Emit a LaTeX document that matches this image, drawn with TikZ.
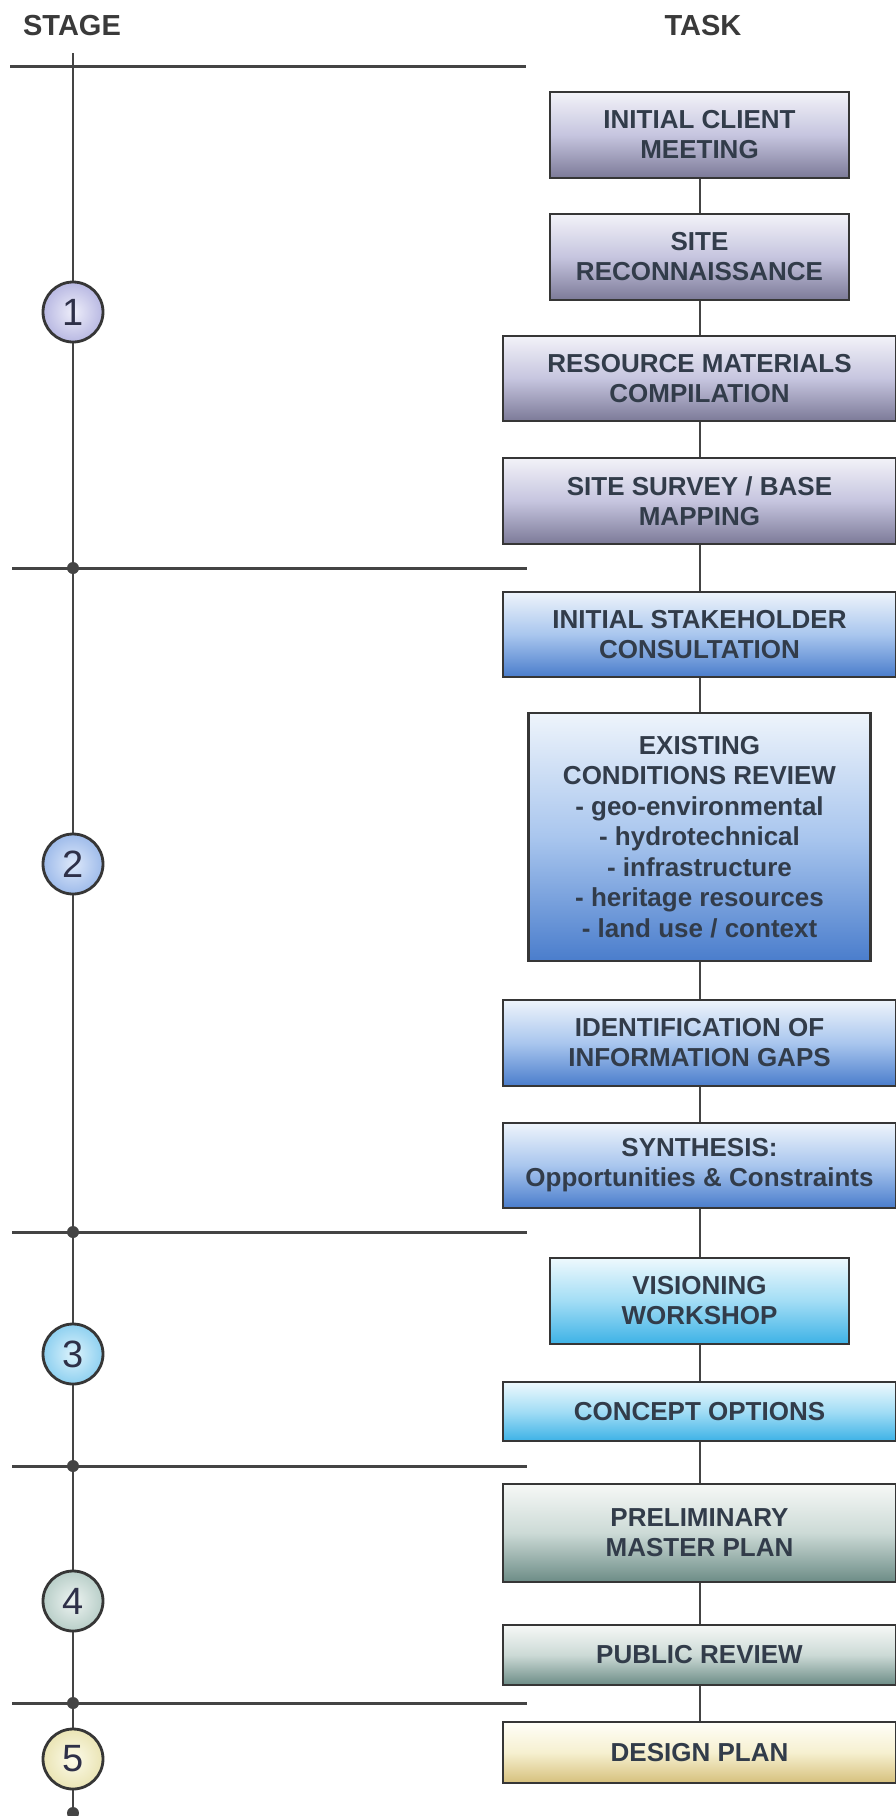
\documentclass[tikz,border=0pt]{standalone}
\usepackage{fontspec}
\setmainfont{Liberation Sans}
\definecolor{boxline}{HTML}{363636}
\definecolor{linecol}{HTML}{444444}
\definecolor{txt}{HTML}{323C4A}
\definecolor{numtxt}{HTML}{2E3048}
\definecolor{hdr}{HTML}{3A3A3A}
\definecolor{pT}{HTML}{F2F2F8}\definecolor{pM}{HTML}{C6C5DF}\definecolor{pB}{HTML}{7C7A98}
\definecolor{bT}{HTML}{EEF4FB}\definecolor{bM}{HTML}{A9C6EE}\definecolor{bB}{HTML}{4A7DCC}
\definecolor{cT}{HTML}{EEF9FD}\definecolor{cM}{HTML}{A2DDF5}\definecolor{cB}{HTML}{3DB2E6}
\definecolor{tT}{HTML}{F6F8F6}\definecolor{tM}{HTML}{CCDAD6}\definecolor{tB}{HTML}{6C8C86}
\definecolor{yT}{HTML}{FFFEF8}\definecolor{yM}{HTML}{F6F0D0}\definecolor{yB}{HTML}{D6C07C}
\begin{document}
\begin{tikzpicture}[x=1pt,y=-1pt,
  task/.style={draw=boxline, line width=2.6pt, rectangle, inner sep=0pt, align=center,
    text=txt, font=\bfseries\fontsize{26}{30}\selectfont},
  narrowbox/.style={minimum width=299pt},
  widebox/.style={minimum width=393pt},
  purp/.style={top color=pT, bottom color=pB, middle color=pM},
  blu/.style={top color=bT, bottom color=bB, middle color=bM},
  cya/.style={top color=cT, bottom color=cB, middle color=cM},
  teal/.style={top color=tT, bottom color=tB, middle color=tM},
  yel/.style={top color=yT, bottom color=yB, middle color=yM},
  stagecirc/.style={circle, draw=boxline, line width=2.8pt, minimum size=60pt, inner sep=0pt,
    font=\fontsize{38}{38}\selectfont, text=numtxt},
  conn/.style={draw=linecol, line width=2pt},
  sline/.style={draw=linecol, line width=3pt},
  vline/.style={draw=linecol, line width=2.2pt},
  sdot/.style={circle, fill=linecol, minimum size=12pt, inner sep=0pt},
  header/.style={font=\bfseries\fontsize{29}{30}\selectfont, text=hdr}
]
\useasboundingbox (0,0) rectangle (896,1816);
\fill[white] (0,0) rectangle (896,1816);

% headers
\node[header] (stagehdr) at (72,26) {STAGE};
\node[header] (taskhdr) at (703,26) {TASK};

% stage timeline
\coordinate (vtop) at (73,53);
\coordinate (vbot) at (73,1816);
\draw[vline] (vtop) -- (vbot);

\coordinate (h0a) at (10,66);   \coordinate (h0b) at (526,66);
\coordinate (h1a) at (12,568);  \coordinate (h1b) at (527,568);
\coordinate (h2a) at (12,1232); \coordinate (h2b) at (527,1232);
\coordinate (h3a) at (12,1466); \coordinate (h3b) at (527,1466);
\coordinate (h4a) at (12,1703); \coordinate (h4b) at (527,1703);
\foreach \i in {0,...,4} { \draw[sline] (h\i a) -- (h\i b); }

\node[sdot] (d1) at (73,568) {};
\node[sdot] (d2) at (73,1232) {};
\node[sdot] (d3) at (73,1466) {};
\node[sdot] (d4) at (73,1703) {};
\node[sdot] (d5) at (73,1813) {};

\node[stagecirc, inner color={rgb,255:red,238;green,238;blue,250}, outer color={rgb,255:red,184;green,184;blue,226}] (s1) at (73,312) {1};
\node[stagecirc, inner color={rgb,255:red,221;green,232;blue,250}, outer color={rgb,255:red,158;green,187;blue,234}] (s2) at (73,864) {2};
\node[stagecirc, inner color={rgb,255:red,221;green,243;blue,252}, outer color={rgb,255:red,142;green,208;blue,240}] (s3) at (73,1354) {3};
\node[stagecirc, inner color={rgb,255:red,238;green,244;blue,242}, outer color={rgb,255:red,184;green,206;blue,200}] (s4) at (73,1601) {4};
\node[stagecirc, inner color={rgb,255:red,252;green,251;blue,234}, outer color={rgb,255:red,234;green,228;blue,180}] (s5) at (73,1759) {5};

% task boxes
\node[task, narrowbox, purp, minimum height=86pt] (b1) at (699.5,135) {INITIAL CLIENT\\MEETING};
\node[task, narrowbox, purp, minimum height=86pt] (b2) at (699.5,257) {SITE\\RECONNAISSANCE};
\node[task, widebox, purp, minimum height=85pt] (b3) at (699.5,378.5) {RESOURCE MATERIALS\\COMPILATION};
\node[task, widebox, purp, minimum height=86pt] (b4) at (699.5,501) {SITE SURVEY / BASE\\MAPPING};
\node[task, widebox, blu, minimum height=85pt] (b5) at (699.5,634.5) {INITIAL STAKEHOLDER\\CONSULTATION};
\node[task, blu, minimum width=342pt, minimum height=248pt, font=\bfseries\fontsize{26}{30.5}\selectfont] (b6) at (699.5,837)
  {EXISTING\\CONDITIONS REVIEW\\- geo-environmental\\- hydrotechnical\\- infrastructure\\- heritage resources\\- land use / context};
\node[task, widebox, blu, minimum height=86pt] (b7) at (699.5,1043) {IDENTIFICATION OF\\INFORMATION GAPS};
\node[task, widebox, blu, minimum height=85pt] (b8) at (699.5,1165.5) {SYNTHESIS:\\Opportunities \& Constraints};
\node[task, narrowbox, cya, minimum height=86pt] (b9) at (699.5,1301) {VISIONING\\WORKSHOP};
\node[task, widebox, cya, minimum height=59pt] (b10) at (699.5,1411.5) {CONCEPT OPTIONS};
\node[task, widebox, teal, minimum height=98pt] (b11) at (699.5,1533) {PRELIMINARY\\MASTER PLAN};
\node[task, widebox, teal, minimum height=60pt] (b12) at (699.5,1655) {PUBLIC REVIEW};
\node[task, widebox, yel, minimum height=61pt] (b13) at (699.5,1752.5) {DESIGN PLAN};

% connectors
\foreach \a/\b in {b1/b2,b2/b3,b3/b4,b4/b5,b5/b6,b6/b7,b7/b8,b8/b9,b9/b10,b10/b11,b11/b12,b12/b13}
  { \draw[conn] (\a.south) -- (\b.north); }
\end{tikzpicture}
\end{document}
